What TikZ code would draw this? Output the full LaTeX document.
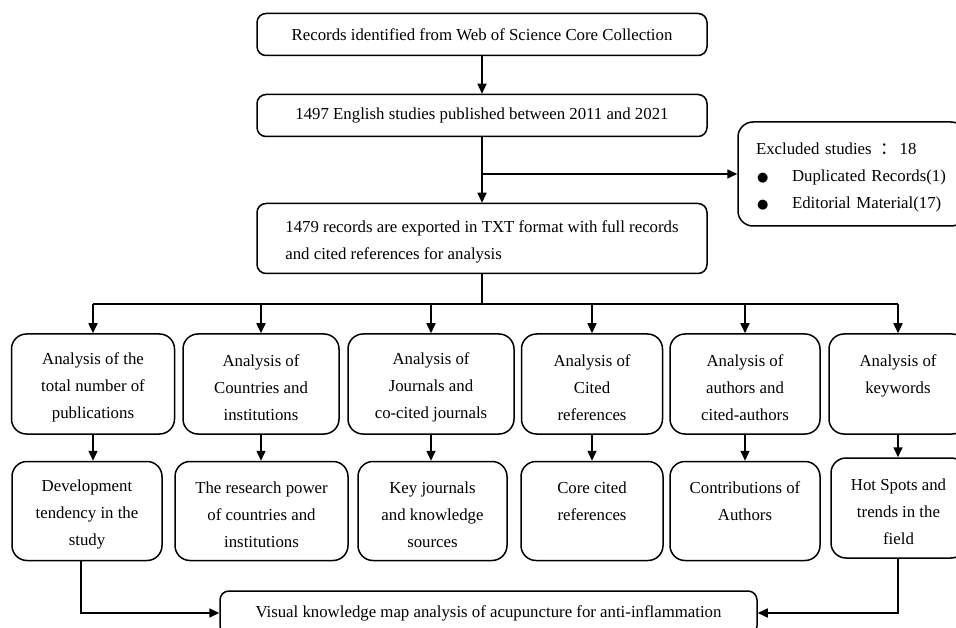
\documentclass[tikz,border=0pt]{standalone}
\usepackage{fontspec}
\setmainfont{Liberation Serif}
\newfontfamily\cjk{Noto Sans CJK SC}
\newfontfamily\symfont{DejaVu Sans}
\usetikzlibrary{arrows.meta}
\newcommand\dnstrut{\rule{0pt}{18.5pt}}
\newcommand\blt{\makebox[36pt][l]{\hspace{1pt}{\symfont\fontsize{13}{13}\selectfont ●}}}
\begin{document}
\begin{tikzpicture}[x=1pt,y=-1pt,
  box/.style={draw, line width=1.5pt, rounded corners=9pt, inner sep=0pt, align=center,
    font=\fontsize{16.8}{27}\selectfont},
  rbox/.style={box, rounded corners=15pt},
  arr/.style={line width=1.6pt, -{Triangle[length=10pt,width=9pt]}},
  ln/.style={line width=1.6pt}]
\useasboundingbox (0,0) rectangle (956,628);

% top chain
\node[box, minimum width=450pt, minimum height=42pt] (top) at (482,34.5)
  {Records identified from Web of Science Core Collection};
\node[box, minimum width=450pt, minimum height=42pt] (b2) at (482,115.5)
  {1497 English studies published between 2011 and 2021};
\node[box, minimum width=450pt, minimum height=70pt, align=left] (b3) at (482,238.5)
  {\dnstrut 1479 records are exported in TXT format with full records\\and cited references for analysis};
\node[box, rounded corners=15pt, minimum width=228pt, minimum height=104pt, align=left,
  text width=192pt] (exc) at (852,174)
  {\dnstrut Excluded studies \,{\cjk ：}\,18\\
   \blt Duplicated Records(1)\\
   \blt Editorial Material(17)};

\draw[arr] (top.south) -- (b2.north);
\draw[arr] (b2.south) -- (b3.north);
\coordinate (br) at (482,174);
\draw[arr] (br) -- (exc.west);

% row 1
\node[rbox, minimum width=163pt, minimum height=100pt] (A) at (93,384)
  {\dnstrut Analysis of the\\total number of\\publications};
\node[rbox, minimum width=156pt, minimum height=100pt] (B) at (261,384)
  {\dnstrut Analysis of\\Countries and\\institutions};
\node[rbox, minimum width=166pt, minimum height=100pt] (C) at (431,384)
  {\dnstrut Analysis of\\Journals and\\co-cited journals};
\node[rbox, minimum width=141pt, minimum height=100pt] (D) at (592,384)
  {\dnstrut Analysis of\\Cited\\references};
\node[rbox, minimum width=150pt, minimum height=100pt] (E) at (745,384)
  {\dnstrut Analysis of\\authors and\\cited-authors};
\node[rbox, minimum width=138pt, minimum height=100pt] (F) at (898,384)
  {\dnstrut Analysis of\\keywords\\~};

\coordinate (split) at (482,304);
\draw[ln] (b3.south) -- (split);
\draw[ln] (A.north |- split) -- (F.north |- split);
\foreach \n in {A,B,C,D,E,F}
  \draw[arr] (\n.north |- split) -- (\n.north);

% row 2
\node[rbox, minimum width=150pt, minimum height=99pt] (A2) at (87,511)
  {\dnstrut Development\\tendency in the\\study};
\node[rbox, minimum width=173pt, minimum height=99pt] (B2) at (261.5,511)
  {\dnstrut The research power\\of countries and\\institutions};
\node[rbox, minimum width=149pt, minimum height=99pt] (C2) at (432.5,511)
  {\dnstrut Key journals\\and knowledge\\sources};
\node[rbox, minimum width=142pt, minimum height=99pt] (D2) at (592,511)
  {\dnstrut Core cited\\references\\~};
\node[rbox, minimum width=150pt, minimum height=99pt] (E2) at (745,511)
  {\dnstrut Contributions of\\Authors\\~};
\node[rbox, minimum width=135pt, minimum height=100pt] (F2) at (898.5,508)
  {\dnstrut Hot Spots and\\trends in the\\field};

\draw[arr] (A.south) -- (A.south |- A2.north);
\draw[arr] (B.south) -- (B.south |- B2.north);
\draw[arr] (C.south) -- (C.south |- C2.north);
\draw[arr] (D.south) -- (D.south |- D2.north);
\draw[arr] (E.south) -- (E.south |- E2.north);
\draw[arr] (F.south) -- (F.south |- F2.north);

% final
\node[box, minimum width=537pt, minimum height=44pt] (fin) at (488.5,613)
  {Visual knowledge map analysis of acupuncture for anti-inflammation};
\draw[arr] (A2.south -| 81,0) |- (fin.west);
\draw[arr] (F2.south -| F.south) |- (fin.east);
\end{tikzpicture}
\end{document}
